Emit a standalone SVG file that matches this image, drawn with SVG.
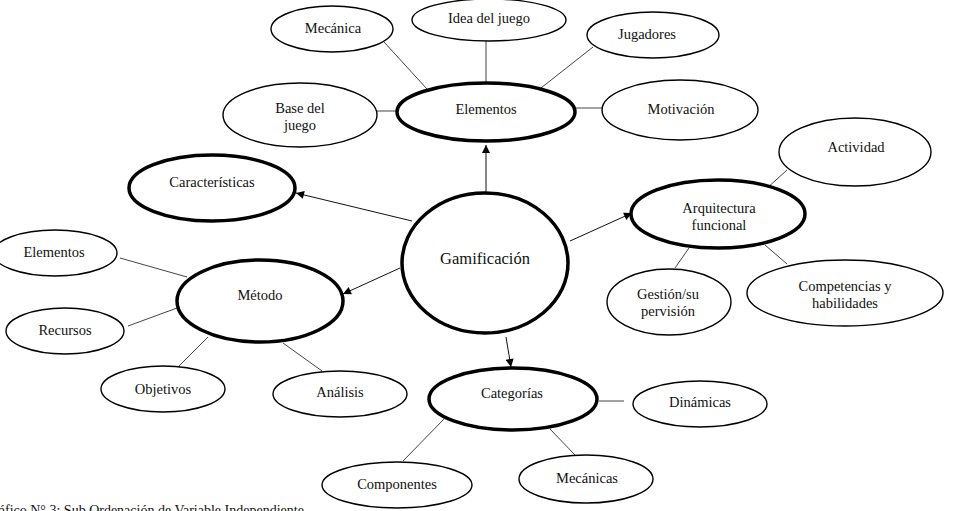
<svg xmlns="http://www.w3.org/2000/svg" width="953" height="511" viewBox="0 0 953 511">
<defs>
<marker id="arr" viewBox="0 0 10 10" refX="10" refY="5" markerWidth="9" markerHeight="8" markerUnits="userSpaceOnUse" orient="auto">
<path d="M0,0 L10,5 L0,10 Z" fill="#000"/>
</marker>
<style>
.main{fill:#fff;stroke:#000;stroke-width:3.5}
.sub{fill:#fff;stroke:#000;stroke-width:1.4}
.ln{stroke:#444;stroke-width:1;fill:none}
.ar{stroke:#111;stroke-width:1;fill:none;marker-end:url(#arr)}
text{font-size:14.5px;fill:#111;text-anchor:middle}
.big{font-size:16.5px}
.cap{text-anchor:start;font-size:14px}
</style>
</defs>
<rect width="953" height="511" fill="#fff"/>
<g id="connectors">
<line class="ln" x1="384" y1="42" x2="427" y2="89"/>
<line class="ln" x1="486" y1="41" x2="486" y2="83"/>
<line class="ln" x1="593" y1="47" x2="541" y2="88"/>
<line class="ln" x1="376" y1="111" x2="396" y2="111"/>
<line class="ln" x1="575" y1="108" x2="602" y2="108"/>
<line class="ar" x1="486" y1="192" x2="486" y2="145"/>
<line class="ar" x1="412" y1="221" x2="296" y2="193"/>
<line class="ar" x1="400" y1="268" x2="343" y2="294"/>
<line class="ar" x1="570" y1="241" x2="632" y2="213"/>
<line class="ar" x1="506" y1="337" x2="511" y2="367"/>
<line class="ln" x1="120" y1="258" x2="187" y2="277"/>
<line class="ln" x1="128" y1="326" x2="177" y2="308"/>
<line class="ln" x1="178" y1="367" x2="208" y2="337"/>
<line class="ln" x1="283" y1="343" x2="322" y2="371"/>
<line class="ln" x1="787" y1="170" x2="766" y2="189"/>
<line class="ln" x1="689" y1="248" x2="675" y2="268"/>
<line class="ln" x1="765" y1="245" x2="787" y2="264"/>
<line class="ln" x1="599" y1="401" x2="624" y2="401"/>
<line class="ln" x1="444" y1="419" x2="403" y2="461"/>
<line class="ln" x1="550" y1="429" x2="575" y2="455"/>
</g>
<g font-family="'Liberation Serif', 'DejaVu Serif', serif">
<g id="gamificacion"><ellipse class="main" cx="485" cy="263" rx="83" ry="70"/><text class="big" x="485" y="264">Gamificación</text></g>
<g id="elementos"><ellipse class="main" cx="486" cy="112" rx="89" ry="29"/><text x="486" y="114">Elementos</text></g>
<g id="caracteristicas"><ellipse class="main" cx="212" cy="188" rx="83" ry="33"/><text x="212" y="187">Características</text></g>
<g id="metodo"><ellipse class="main" cx="260" cy="301" rx="83" ry="41"/><text x="260" y="300">Método</text></g>
<g id="arquitectura"><ellipse class="main" cx="718" cy="214" rx="87" ry="34"/><text x="719" y="213">Arquitectura</text><text x="719" y="230">funcional</text></g>
<g id="categorias"><ellipse class="main" cx="513" cy="399" rx="84" ry="31"/><text x="512" y="398">Categorías</text></g>
<g id="mecanica"><ellipse class="sub" cx="332" cy="29" rx="61" ry="23"/><text x="333" y="33">Mecánica</text></g>
<g id="idea"><ellipse class="sub" cx="489" cy="20" rx="77" ry="21"/><text x="489" y="23">Idea del juego</text></g>
<g id="jugadores"><ellipse class="sub" cx="653" cy="35" rx="66" ry="23"/><text x="647" y="39">Jugadores</text></g>
<g id="base"><ellipse class="sub" cx="300" cy="115" rx="77" ry="32"/><text x="300" y="113">Base del</text><text x="300" y="130">juego</text></g>
<g id="motivacion"><ellipse class="sub" cx="680" cy="110" rx="78" ry="30"/><text x="681" y="114">Motivación</text></g>
<g id="actividad"><ellipse class="sub" cx="855" cy="152" rx="76" ry="34"/><text x="856" y="152">Actividad</text></g>
<g id="competencias"><ellipse class="sub" cx="845" cy="293" rx="98" ry="33"/><text x="845" y="291">Competencias y</text><text x="845" y="308">habilidades</text></g>
<g id="gestion"><ellipse class="sub" cx="669" cy="302" rx="62" ry="33"/><text x="668" y="299">Gestión/su</text><text x="668" y="316">pervisión</text></g>
<g id="elementos2"><ellipse class="sub" cx="55" cy="253" rx="62" ry="23"/><text x="54" y="257">Elementos</text></g>
<g id="recursos"><ellipse class="sub" cx="65" cy="331" rx="59" ry="23"/><text x="65" y="335">Recursos</text></g>
<g id="objetivos"><ellipse class="sub" cx="163" cy="389" rx="62" ry="23"/><text x="163" y="394">Objetivos</text></g>
<g id="analisis"><ellipse class="sub" cx="340" cy="394" rx="67" ry="23"/><text x="340" y="397">Análisis</text></g>
<g id="dinamicas"><ellipse class="sub" cx="700" cy="404" rx="67" ry="23"/><text x="700" y="407">Dinámicas</text></g>
<g id="componentes"><ellipse class="sub" cx="397" cy="485" rx="75" ry="23"/><text x="397" y="489">Componentes</text></g>
<g id="mecanicas"><ellipse class="sub" cx="586" cy="479" rx="67" ry="24"/><text x="587" y="483">Mecánicas</text></g>
<text class="cap" x="-16" y="515">Gráfico N° 3: Sub Ordenación de Variable Independiente</text>
</g>
</svg>
